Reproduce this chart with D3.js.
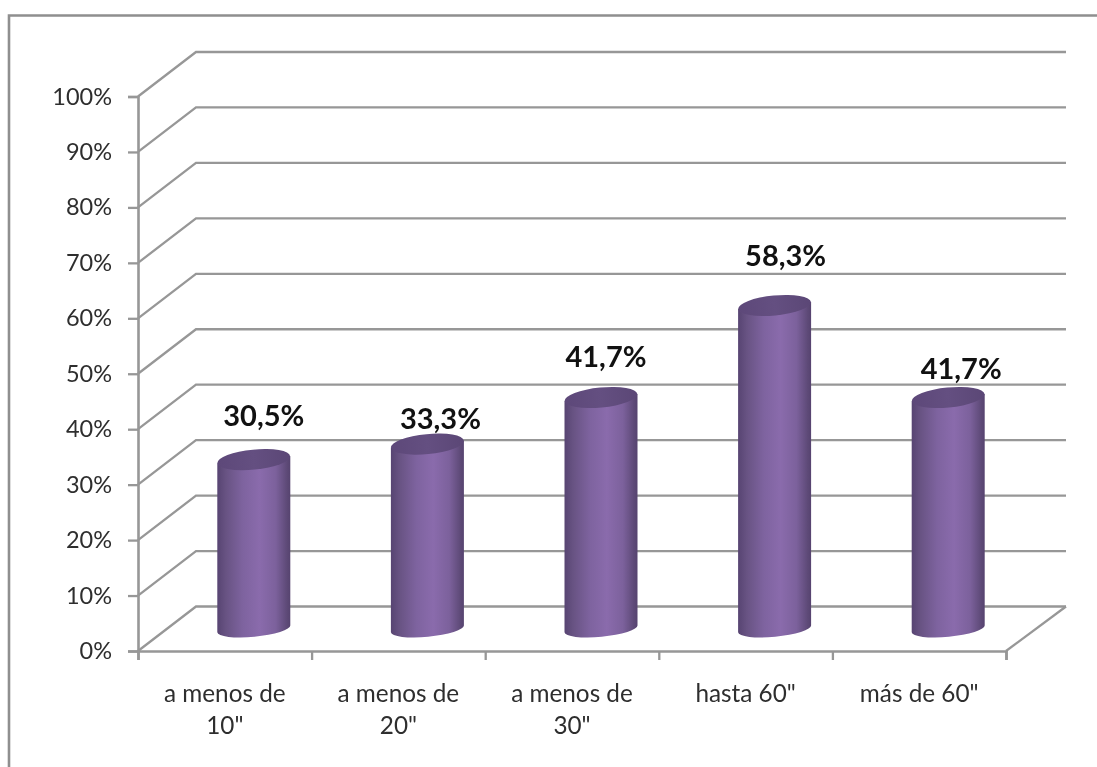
<!DOCTYPE html>
<html>
<head>
<meta charset="utf-8">
<script src="https://cdn.jsdelivr.net/npm/d3@7"></script>
<style>
  html, body { margin: 0; padding: 0; background: #fff; }
  svg { display: block; filter: blur(0.4px); }
  text { font-family: Lato, "Open Sans", sans-serif; }
</style>
</head>
<body>
<script>
// values
const categories = ['a menos de\n10"', 'a menos de\n20"', 'a menos de\n30"', 'hasta 60"', 'más de 60"'];
const values = [30.5, 33.3, 41.7, 58.3, 41.7];
const valueLabels = ['30,5%', '33,3%', '41,7%', '58,3%', '41,7%'];
const yTicks = [0, 10, 20, 30, 40, 50, 60, 70, 80, 90, 100];

const width = 1097, height = 767;
const gridColor = '#979797';

// floor depth of the fake 3d box
const depthX = 58, depthY = -44.5;

const x = d3.scaleBand().domain(categories).range([138, 1006]);
const y = d3.scaleLinear().domain([0, 100]).range([651, 96.5]);

const svg = d3.select('body').append('svg')
  .attr('width', width)
  .attr('height', height);

// gradient for the cylinders
const defs = svg.append('defs');
const bodyGrad = defs.append('linearGradient').attr('id', 'bodyGrad');
[[0, '#574472'], [0.12, '#685383'], [0.35, '#7e639f'], [0.58, '#8a6bac'], [0.8, '#7c619c'], [0.95, '#5e4a78'], [1, '#56436f']]
  .forEach(s => bodyGrad.append('stop').attr('offset', s[0]).attr('stop-color', s[1]));
const topGrad = defs.append('linearGradient').attr('id', 'topGrad');
[[0, '#5d4879'], [0.5, '#644f81'], [1, '#5b4776']]
  .forEach(s => topGrad.append('stop').attr('offset', s[0]).attr('stop-color', s[1]));

// outer frame, only top and left are visible
svg.append('path')
  .attr('d', 'M9,768V15.5H1097')
  .attr('fill', 'none')
  .attr('stroke', '#8f8f8f')
  .attr('stroke-width', 2.6);

// gridlines on the back wall and side wall
svg.append('g').selectAll('path')
  .data(yTicks)
  .enter()
  .append('path')
  .attr('d', d => 'M' + x.range()[0] + ',' + y(d) + 'l' + depthX + ',' + depthY + 'H' + (x.range()[1] + depthX + 2))
  .attr('fill', 'none')
  .attr('stroke', gridColor)
  .attr('stroke-width', 2.3);

// right edge of the floor
svg.append('path')
  .attr('d', 'M' + x.range()[1] + ',' + y(0) + 'l' + (depthX + 2) + ',' + depthY)
  .attr('fill', 'none')
  .attr('stroke', gridColor)
  .attr('stroke-width', 2.3);

// axes
const yAxis = svg.append('g')
  .attr('transform', 'translate(' + x.range()[0] + ',0)')
  .call(d3.axisLeft(y).tickValues(yTicks).tickSize(10).tickPadding(16).tickFormat(d => d + '%'));

const xEdges = categories.map(c => x(c)).concat(x.range()[1]);
const xAxisScale = d3.scaleLinear().domain(x.range()).range(x.range());
const xAxis = svg.append('g')
  .attr('transform', 'translate(0,' + y(0) + ')')
  .call(d3.axisBottom(xAxisScale).tickValues(xEdges).tickSize(9).tickFormat(''));

[yAxis, xAxis].forEach(a => {
  a.selectAll('.domain').attr('stroke', gridColor).attr('stroke-width', 2.6);
  a.selectAll('.tick line').attr('stroke', gridColor).attr('stroke-width', 2.3);
});
yAxis.selectAll('text')
  .style('font-family', 'Lato, sans-serif')
  .style('font-size', '23.5px')
  .attr('fill', '#2e2e2e');

// category labels, broken on two lines
const catText = svg.append('g').selectAll('text')
  .data(categories)
  .enter()
  .append('text')
  .attr('text-anchor', 'middle')
  .attr('font-size', 24.3)
  .attr('fill', '#2e2e2e');
catText.selectAll('tspan')
  .data(d => d.split('\n').map(t => ({ t: t, c: d })))
  .enter()
  .append('tspan')
  .attr('x', d => x(d.c) + x.bandwidth() / 2)
  .attr('y', (d, i) => 702 + i * 32)
  .text(d => d.t);

// cylinders, sitting halfway into the floor depth
const barW = 73, ryTop = 10, ryBottom = 8, tilt = -5.5;
const rx = barW / 2;
const tiltRise = Math.sin(-tilt * Math.PI / 180) * rx;

const bars = svg.append('g').selectAll('g')
  .data(values.map((v, i) => ({ v: v, c: categories[i] })))
  .enter()
  .append('g')
  .attr('transform', d => 'translate(' + (x(d.c) + x.bandwidth() / 2 + depthX / 2) + ',0)');

bars.append('path')
  .attr('d', d => {
    const yb = y(0) + depthY / 2, yt = y(d.v) + depthY / 2;
    return 'M' + (-rx) + ',' + (yt + tiltRise)
      + 'L' + rx + ',' + (yt - tiltRise)
      + 'L' + rx + ',' + (yb - tiltRise)
      + 'A' + rx + ',' + ryBottom + ' ' + tilt + ' 0 1 ' + (-rx) + ',' + (yb + tiltRise) + 'Z';
  })
  .attr('fill', 'url(#bodyGrad)');

bars.append('ellipse')
  .attr('rx', rx)
  .attr('ry', ryTop)
  .attr('fill', 'url(#topGrad)')
  .attr('transform', d => 'translate(0,' + (y(d.v) + depthY / 2) + ') rotate(' + tilt + ')');

// value labels do not sit at a fixed distance in the original
const labelShiftX = [10, 13, 5, 11, 13];
const labelShiftY = [33.6, 15, 30.5, 39.5, 18.5];

svg.append('g').selectAll('text')
  .data(values)
  .enter()
  .append('text')
  .attr('x', (d, i) => x(categories[i]) + x.bandwidth() / 2 + depthX / 2 + labelShiftX[i])
  .attr('y', (d, i) => y(d) + depthY / 2 - labelShiftY[i])
  .attr('text-anchor', 'middle')
  .attr('font-size', 29)
  .attr('font-weight', 700)
  .attr('fill', '#111')
  .text((d, i) => valueLabels[i]);
</script>
</body>
</html>
